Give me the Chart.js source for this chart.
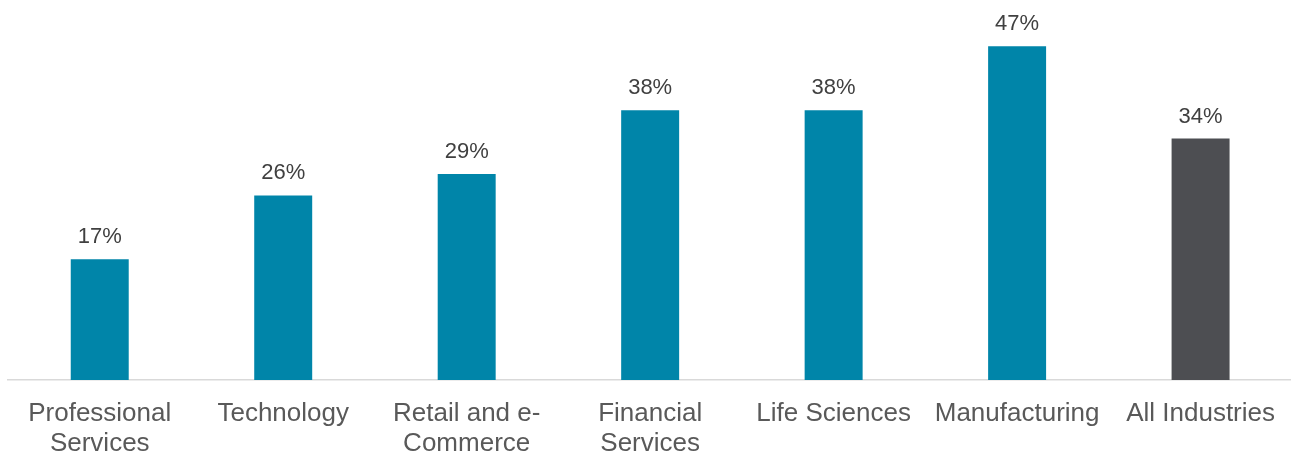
<!DOCTYPE html>
<html><head><meta charset="utf-8">
<script src="https://cdn.jsdelivr.net/npm/chart.js@4"></script>
<style>html,body{margin:0;padding:0;background:#fff;overflow:hidden;}#wrap{width:1291px;height:454px;overflow:hidden;}</style>
</head><body><div id="wrap"><canvas id="c" width="1294" height="454"></canvas></div>
<script>
const categories = [["Professional","Services"],"Technology",["Retail and e-","Commerce"],["Financial","Services"],"Life Sciences","Manufacturing","All Industries"];
const values = [17, 26, 29, 38, 38, 47, 34];
const barColors = ["#0085A9","#0085A9","#0085A9","#0085A9","#0085A9","#0085A9","#4D4E52"];

const labelPlugin = {
  id: 'valLabels',
  afterDatasetsDraw(chart) {
    const ctx = chart.ctx;
    const meta = chart.getDatasetMeta(0);
    ctx.save();
    ctx.font = '22px "Liberation Sans", Arial, sans-serif';
    ctx.fillStyle = '#404040';
    ctx.textAlign = 'center';
    ctx.textBaseline = 'middle';
    meta.data.forEach((bar, i) => {
      ctx.fillText(values[i] + '%', bar.x, bar.y - 22);
    });
    ctx.restore();
  }
};

new Chart(document.getElementById('c'), {
  type: 'bar',
  data: { labels: categories, datasets: [{ data: values, backgroundColor: barColors, borderWidth: 0 }] },
  options: {
    responsive: false,
    animation: false,
    devicePixelRatio: 1,
    layout: { padding: { top: 25, left: 8, right: 0, bottom: 0 } },
    plugins: { legend: { display: false }, tooltip: { enabled: false } },
    datasets: { bar: { categoryPercentage: 1, barPercentage: 0.316 } },
    scales: {
      y: { display: false, min: 0, max: 50 },
      x: {
        grid: { display: false, drawTicks: false },
        border: { display: true, color: '#D9D9D9', width: 1.5 },
        ticks: { color: '#595959', padding: 19, maxRotation: 0, autoSkip: false,
                 font: { family: '"Liberation Sans", Arial, sans-serif', size: 26, lineHeight: 1.15 } },
        afterFit(scale) { scale.height = 74; }
      }
    }
  },
  plugins: [labelPlugin]
});
</script></body></html>
